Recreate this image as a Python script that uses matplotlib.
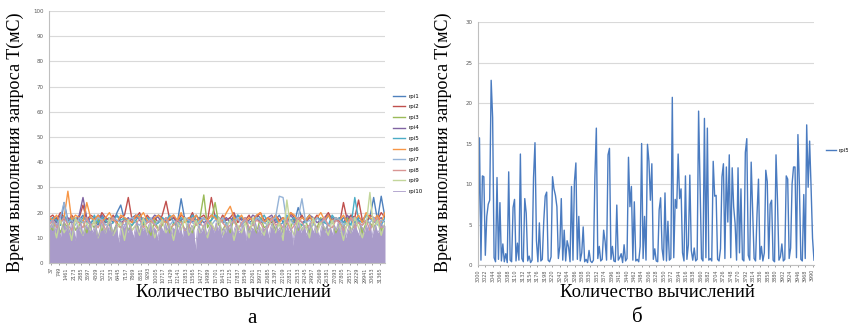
import numpy as np
import matplotlib.pyplot as plt

# ---- данные, рис. а (10 серий rpi1..rpi10) ----
left_ticks = [37 + 712 * i for i in range(45)]

rpi1 = [17, 16, 18, 15, 24, 17, 16, 18, 17, 19,
        16, 18, 17, 15, 19, 17, 18, 16, 20, 23,
        17, 16, 18, 19, 17, 15, 18, 16, 17, 19,
        18, 16, 17, 18, 16, 25.5, 17, 18, 16, 19,
        17, 18, 16, 17, 19, 18, 16, 17, 18, 16,
        19, 17, 18, 16, 17, 19, 18, 16, 17, 18,
        17, 19, 16, 18, 17, 16, 22, 18, 17, 19,
        16, 18, 17, 16, 19, 18, 17, 16, 18, 17,
        19, 16, 18, 17, 16, 18, 26, 17, 26.5, 18]
rpi2 = [18, 19, 17, 20, 18, 16, 19, 17, 18, 23,
        17, 19, 18, 16, 20, 18, 17, 19, 16, 18,
        19, 26, 17, 18, 20, 16, 19, 17, 18, 16,
        19, 24.5, 17, 18, 16, 19, 18, 17, 20, 16,
        18, 19, 17, 26, 18, 16, 19, 17, 18, 20,
        16, 18, 17, 19, 16, 18, 20, 17, 18, 16,
        19, 17, 18, 16, 20, 18, 17, 19, 16, 18,
        17, 19, 16, 18, 20, 17, 18, 16, 24, 17,
        19, 18, 25, 17, 16, 19, 18, 17, 20, 18]
rpi3 = [15, 13, 17, 12, 16, 14, 18, 13, 15, 17,
        12, 16, 14, 18, 13, 17, 15, 12, 16, 14,
        18, 13, 15, 17, 12, 16, 14, 11, 17, 13,
        15, 18, 12, 16, 14, 17, 13, 15, 12, 16,
        18, 27, 14, 17, 24, 15, 13, 16, 12, 18,
        14, 15, 17, 13, 16, 12, 18, 14, 15, 17,
        13, 16, 12, 16, 14, 18, 13, 15, 17, 12,
        16, 14, 18, 13, 15, 17, 12, 16, 14, 18,
        13, 15, 17, 12, 16, 16, 14, 17, 13, 15]
rpi4 = [17, 18, 16, 19, 17, 18, 16, 17, 19, 26,
        18, 16, 17, 19, 18, 16, 17, 18, 19, 16,
        17, 18, 16, 19, 17, 18, 16, 17, 19, 18,
        16, 17, 18, 19, 16, 17, 18, 16, 19, 17,
        18, 16, 17, 19, 18, 16, 17, 18, 16, 19,
        17, 18, 16, 17, 19, 18, 16, 17, 18, 19,
        16, 17, 18, 16, 19, 17, 18, 16, 17, 19,
        18, 16, 17, 18, 19, 16, 17, 18, 16, 19,
        17, 18, 16, 17, 19, 18, 16, 17, 18, 16]
rpi5 = [16, 18, 17, 15, 19, 16, 18, 17, 16, 18,
        17, 15, 19, 16, 18, 17, 15, 16, 19, 17,
        18, 16, 15, 17, 19, 16, 18, 17, 15, 16,
        18, 17, 19, 16, 15, 18, 17, 16, 19, 17,
        15, 18, 16, 17, 19, 16, 18, 15, 17, 16,
        19, 18, 17, 16, 15, 18, 17, 19, 16, 17,
        18, 15, 16, 19, 17, 18, 16, 15, 17, 19,
        16, 18, 17, 16, 15, 19, 17, 18, 16, 17,
        15, 26, 17, 16, 19, 18, 16, 17, 15, 18]
rpi6 = [18, 17, 19, 16, 18, 28.5, 17, 19, 18, 16,
        24, 18, 17, 19, 16, 18, 20, 17, 16, 19,
        18, 17, 16, 19, 18, 20, 17, 16, 18, 19,
        17, 16, 18, 19, 17, 20, 16, 18, 17, 19,
        16, 18, 17, 19, 18, 16, 17, 20, 22.5, 18,
        17, 19, 16, 18, 17, 19, 20, 16, 18, 17,
        19, 16, 18, 17, 20, 19, 16, 18, 17, 19,
        16, 18, 20, 17, 19, 16, 18, 17, 19, 16,
        18, 17, 19, 16, 20, 18, 17, 19, 16, 20]
rpi7 = [16, 17, 15, 18, 24, 16, 17, 15, 18, 16,
        17, 15, 16, 18, 17, 15, 16, 18, 17, 16,
        15, 17, 18, 16, 15, 17, 16, 18, 15, 17,
        16, 18, 15, 17, 16, 15, 18, 17, 16, 15,
        17, 18, 16, 15, 17, 16, 18, 15, 17, 16,
        18, 15, 17, 16, 15, 18, 17, 16, 15, 17,
        18, 26.5, 26, 16, 17, 15, 18, 25.5, 16, 17,
        15, 18, 16, 17, 15, 16, 18, 17, 15, 16,
        17, 18, 16, 15, 17, 16, 18, 15, 17, 16]
rpi8 = [15, 17, 14, 16, 18, 15, 13, 17, 16, 14,
        18, 15, 16, 14, 17, 13, 16, 18, 15, 14,
        17, 16, 13, 15, 18, 14, 16, 17, 15, 13,
        16, 18, 14, 15, 17, 16, 13, 14, 18, 15,
        16, 14, 17, 15, 13, 18, 16, 14, 15, 17,
        13, 16, 18, 14, 15, 17, 16, 13, 14, 18,
        15, 16, 14, 17, 13, 15, 18, 16, 14, 15,
        17, 13, 16, 18, 15, 14, 17, 16, 13, 15,
        18, 14, 16, 15, 17, 13, 16, 18, 14, 15]
rpi9 = [13, 16, 10, 17, 12, 15, 9, 18, 14, 11,
        16, 13, 17, 10, 15, 12, 18, 11, 14, 16,
        9, 17, 13, 15, 11, 18, 12, 16, 10, 14,
        17, 12, 15, 9, 16, 13, 18, 11, 14, 17,
        12, 15, 10, 16, 13, 18, 11, 14, 17, 9,
        15, 12, 16, 10, 18, 13, 14, 11, 17, 15,
        12, 16, 9, 25, 14, 11, 17, 13, 15, 10,
        18, 12, 16, 14, 11, 17, 13, 15, 9, 16,
        12, 18, 14, 10, 15, 28, 13, 17, 11, 16]
rpi10 = [16, 14, 17, 12, 15, 16, 10, 14, 17, 13,
         15, 12, 16, 14, 9, 15, 13, 16, 11, 14,
         15, 13, 16, 12, 14, 15, 10, 13, 16, 14,
         12, 15, 13, 16, 11, 14, 15, 8, 13, 15,
         14, 16, 12, 15, 13, 10, 14, 16, 12, 15,
         13, 14, 11, 15, 16, 12, 14, 13, 9, 15,
         14, 12, 16, 13, 15, 11, 14, 13, 16, 12,
         15, 10, 14, 13, 16, 12, 15, 14, 5, 13,
         15, 12, 14, 16, 11, 13, 15, 14, 12, 16,
         13, 15, 10, 14, 12, 15, 13, 16, 11, 14,
         15, 12, 13, 16, 14, 9, 15, 12, 14, 13,
         16, 12, 15, 11, 14, 13, 15, 10, 14, 16,
         12, 15, 13, 14, 11, 16, 13, 15, 12, 14,
         7, 15, 13, 16, 12, 14, 15, 11, 13, 16,
         14, 12, 15, 13, 10, 14, 16, 12, 15, 13,
         14, 11, 15, 13, 16, 12, 14, 15, 10, 13,
         15, 12, 14, 16, 13, 11, 15, 14, 12, 15,
         13, 16, 10, 14, 15, 12, 13, 16, 14, 15]

series = [rpi1, rpi2, rpi3, rpi4, rpi5, rpi6, rpi7, rpi8, rpi9]
names = ['rpi%d' % i for i in range(1, 11)]
colors = ['#4F81BD', '#C0504D', '#9BBB59', '#8064A2', '#4BACC6',
          '#F79646', '#95B3D7', '#D99694', '#C3D69B', '#A99BC9']

# ---- данные, рис. б (rpi5) ----
right_ticks = [3000 + 22 * i for i in range(46)]
rpi5_b = [2.3, 15.7, 0.6, 11.0, 10.9, 1.2, 6.0, 7.5, 8.0, 22.8,
          18.2, 0.9, 0.4, 10.8, 0.7, 7.7, 0.5, 2.6, 0.4, 1.4,
          0.3, 11.5, 0.6, 0.4, 7.1, 8.1, 0.5, 2.7, 0.6, 13.7,
          0.8, 0.4, 8.2, 6.4, 0.5, 1.1, 0.3, 0.6, 10.8, 15.1,
          3.0, 0.4, 5.2, 0.5, 0.7, 5.4, 8.5, 9.0, 0.6, 0.4,
          1.0, 10.9, 9.4, 8.6, 7.2, 0.8, 2.3, 8.2, 0.6, 4.3,
          0.5, 3.0, 2.2, 0.4, 9.7, 0.6, 10.3, 12.6, 0.7, 6.0,
          0.5, 1.5, 4.7, 0.4, 0.7, 0.3, 1.8, 0.5, 0.3, 0.6,
          10.8, 16.9, 0.8, 2.3, 0.5, 0.7, 4.3, 2.9, 0.6, 13.6,
          14.4, 0.7, 2.3, 0.5, 0.4, 7.4, 0.6, 0.9, 1.4, 0.3,
          2.5, 0.5, 0.8, 13.3, 7.2, 9.7, 0.6, 7.8, 0.5, 0.7,
          0.4, 2.3, 15.0, 0.8, 6.0, 0.6, 14.9, 12.8, 8.0, 12.5,
          0.7, 2.0, 0.5, 0.4, 6.8, 8.3, 2.0, 0.6, 8.9, 0.5,
          5.4, 0.6, 0.8, 20.7, 0.9, 8.1, 7.0, 13.7, 8.2, 9.4,
          1.5, 0.5, 11.0, 0.7, 2.5, 11.1, 1.8, 0.6, 2.1, 0.5,
          0.7, 19.0, 10.1, 0.8, 0.5, 18.1, 0.9, 16.9, 0.6, 0.8,
          0.5, 12.8, 8.5, 8.6, 0.7, 0.5, 2.0, 10.9, 12.5, 0.8,
          12.1, 5.3, 13.6, 0.9, 12.0, 7.2, 5.1, 0.6, 12.0, 1.5,
          9.4, 0.7, 0.5, 13.9, 15.6, 1.2, 0.6, 12.7, 6.6, 0.8,
          0.5, 6.3, 10.6, 0.7, 2.3, 0.5, 1.5, 11.7, 10.3, 0.8,
          7.5, 8.0, 0.6, 0.4, 13.6, 8.0, 0.6, 1.0, 2.6, 0.5,
          0.7, 11.0, 10.6, 0.8, 2.1, 10.0, 12.1, 12.1, 0.9, 16.1,
          9.8, 0.7, 0.5, 8.7, 0.8, 17.3, 9.6, 15.3, 9.6, 3.3,
          0.6]

serif = 'Liberation Serif'
grid_c = '#d9d9d9'
tick_c = '#595959'


def style_axes(ax):
    for s in ['top', 'right']:
        ax.spines[s].set_visible(False)
    for s in ['left', 'bottom']:
        ax.spines[s].set_color('#bfbfbf')
        ax.spines[s].set_linewidth(0.8)
    ax.grid(axis='y', color=grid_c, lw=0.8)
    ax.set_axisbelow(True)
    ax.tick_params(axis='y', length=0, labelsize=4, colors=tick_c, pad=4)
    ax.tick_params(axis='x', length=1.5, labelsize=3.5, colors=tick_c,
                   pad=1.5, labelrotation=90, width=0.4)


fig = plt.figure(figsize=(8.48, 3.27), dpi=100)

# ---- а ----
ax1 = fig.add_axes([0.0578, 0.1957, 0.3962, 0.7706])
style_axes(ax1)
lo, hi = -0.3, 44.7
handles = []
for vals, nm, c in zip(series, names[:9], colors[:9]):
    x = np.linspace(lo, hi, len(vals))
    h, = ax1.plot(x, vals, color=c, lw=1.0)
    handles.append(h)
x10 = np.linspace(lo, hi, len(rpi10))
ax1.fill_between(x10, 0, rpi10, color=colors[9], lw=0)
h, = ax1.plot(x10, rpi10, color=colors[9], lw=0.6)
handles.append(h)
ax1.set_xlim(lo, hi)
ax1.set_ylim(0, 100)
ax1.set_yticks(np.arange(0, 101, 10))
ax1.set_xticks(range(len(left_ticks)))
ax1.set_xticklabels(left_ticks)
fig.legend(handles, names, loc='upper left', bbox_to_anchor=(0.461, 0.72),
           frameon=False, fontsize=4, handlelength=2.2, handletextpad=0.5,
           labelspacing=1.0, borderaxespad=0)
fig.text(0.018, 0.565, 'Время выполнения запроса T(мС)', rotation=90,
         ha='center', va='center', family=serif, fontsize=13)
fig.text(0.275, 0.105, 'Количество вычислений', ha='center', va='center',
         family=serif, fontsize=13.5)
fig.text(0.297, 0.025, 'а', ha='center', va='center', family=serif,
         fontsize=15)

# ---- б ----
ax2 = fig.add_axes([0.5637, 0.1896, 0.3962, 0.7431])
style_axes(ax2)
xb = np.arange(len(rpi5_b))
hb, = ax2.plot(xb, rpi5_b, color='#4A7BC0', lw=1.0)
ax2.set_xlim(0, len(rpi5_b) - 1)
ax2.set_ylim(0, 30)
ax2.set_yticks(np.arange(0, 31, 5))
ax2.set_xticks(np.linspace(0, len(rpi5_b) - 2, len(right_ticks)))
ax2.set_xticklabels(right_ticks)
fig.legend([hb], ['rpi5'], loc='upper left', bbox_to_anchor=(0.972, 0.553),
           frameon=False, fontsize=4, handlelength=1.8, handletextpad=0.4,
           borderaxespad=0)
fig.text(0.523, 0.565, 'Время выполнения запроса T(мС)', rotation=90,
         ha='center', va='center', family=serif, fontsize=13)
fig.text(0.775, 0.105, 'Количество вычислений', ha='center', va='center',
         family=serif, fontsize=13.5)
fig.text(0.751, 0.03, 'б', ha='center', va='center', family=serif,
         fontsize=15)

fig.savefig('out.png', dpi=100)
